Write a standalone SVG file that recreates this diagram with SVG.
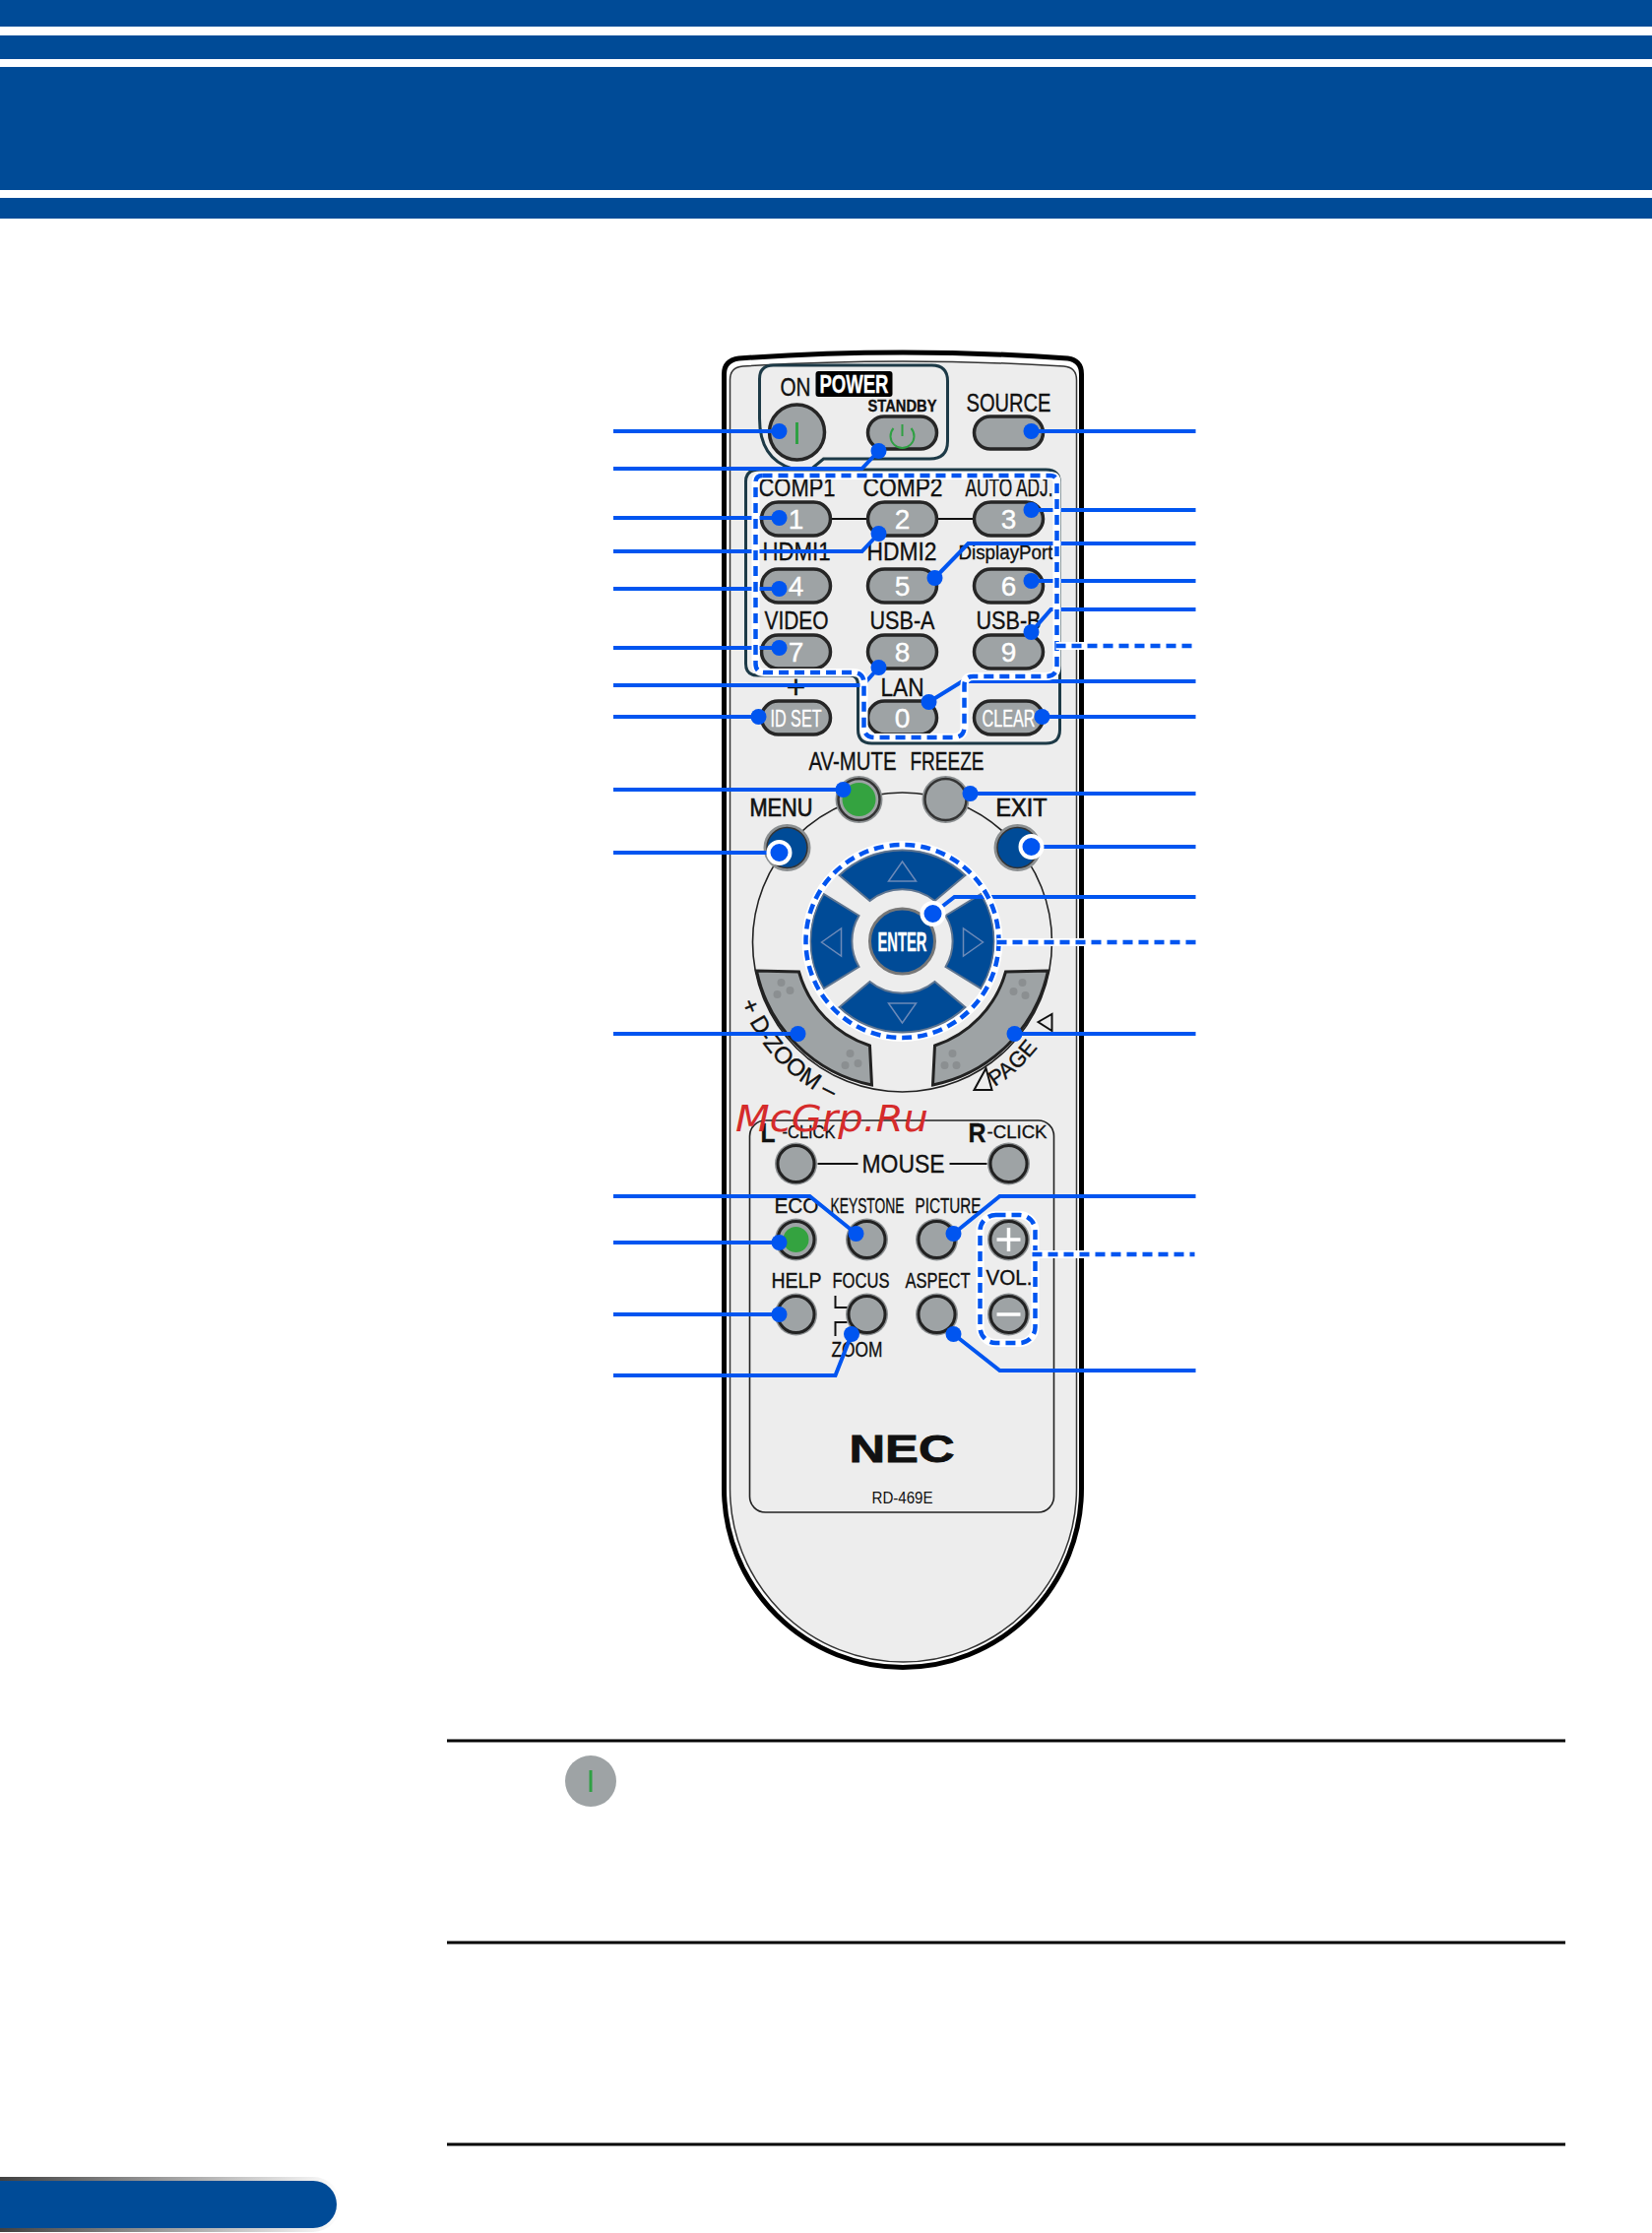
<svg xmlns="http://www.w3.org/2000/svg" xmlns:xlink="http://www.w3.org/1999/xlink" width="1678" height="2268" viewBox="0 0 1678 2268">
<style>
.band{fill:#004b97}
.t{font-family:"Liberation Sans",Arial,sans-serif;font-size:25px;fill:#111;stroke:#111;stroke-width:.35}
.b{font-weight:bold}
.w{fill:#fff;stroke:#fff}
.d{font-size:28px}
.s{font-size:22.5px}
.pill{fill:#9ea3a5;stroke:#262626;stroke-width:3.5}
.box{fill:none;stroke:#1d3a47;stroke-width:3}
.thin{fill:none;stroke:#222;stroke-width:1.6}
.k{fill:none;stroke:#111;stroke-width:2}
.band2{fill:#9ea3a5;stroke:#222;stroke-width:3}
.pad{fill:#004b97;stroke:#5f7590;stroke-width:2}
.tri{fill:none;stroke:#6c8ab8;stroke-width:1.5}
.conn{fill:none;stroke:#0055f0;stroke-width:4}
.halo{fill:none;stroke:#fff;stroke-width:8}
.dash{fill:none;stroke:#0055f0;stroke-width:4.5;stroke-dasharray:10 6}
.grn{fill:none;stroke:#2fa043;stroke-width:3}
.rule{stroke:#000;stroke-width:3}
</style>
<defs>
<linearGradient id="fade" x1="0" x2="1" y1="0" y2="0"><stop offset="0" stop-color="#2a2a2a"/><stop offset="1" stop-color="#ffffff"/></linearGradient>
<marker id="dot" markerUnits="userSpaceOnUse" markerWidth="20" markerHeight="20" refX="10" refY="10" overflow="visible"><circle cx="10" cy="10" r="8" fill="#0055f0"/></marker>
<marker id="ring" markerUnits="userSpaceOnUse" markerWidth="28" markerHeight="28" refX="14" refY="14" overflow="visible"><circle cx="14" cy="14" r="11" fill="#0055f0" stroke="#fff" stroke-width="4"/></marker>
<g id="rb"><circle r="21.5" fill="#8b8f91"/><circle r="18.5" fill="#9ea3a5" stroke="#222" stroke-width="3"/></g>
<g id="big"><circle r="24" fill="#8b8f91"/><circle r="21" fill="#9ea3a5" stroke="#333" stroke-width="2.5"/></g>
<path id="seg-v" class="pad" d="M-64,-67A93,93 0 0 1 64,-67L33,-41A52,52 0 0 0 -33,-41Z"/>
<path id="seg-h" class="pad" d="M-80,-48A93,93 0 0 0 -80,48L-44,26A51,51 0 0 1 -44,-26Z"/>
<polygon id="arw" class="tri" points="0,-82 14,-62 -14,-62"/>
</defs>

<g id="header">
<rect class="band" x="0" y="0" width="1678" height="27"/>
<rect class="band" x="0" y="36" width="1678" height="24"/>
<rect class="band" x="0" y="68" width="1678" height="125"/>
<rect class="band" x="0" y="201" width="1678" height="21"/>
</g>

<g id="remote" transform="translate(-1.5,0)">
<g id="remote-body">
<path d="M737,1512V380Q737,366 752,364Q918,352 1086,364Q1100,366 1100,380V1512A181.5,181.5 0 0 1 737,1512Z" fill="#fff" stroke="#000" stroke-width="5"/>
<path d="M743,1512V386Q743,373 756,372Q918,362 1082,372Q1095,373 1095,386V1512A176,176 0 0 1 743,1512Z" fill="#ededed" stroke="#333" stroke-width="1.5"/>
</g>

<g id="group-frames">
<path class="box" d="M787,371H948Q964,371 964,387V448Q964,466 946,466H838L826,476H806Q773,466 773,425V385Q773,371 787,371Z"/>
<path class="box" d="M773,477H1064Q1078,477 1078,491V741Q1078,755 1064,755H887Q873,755 873,741V696Q873,686 865,686H771Q759,686 759,674V489Q759,477 773,477Z"/>
<rect class="thin" x="763" y="1138" width="309" height="398" rx="16"/>
<circle class="thin" cx="918" cy="957" r="152"/>
<path class="k" d="M846,527H882M954,527H990M832,1182H873M966,1182H1004M850,1316V1328H864M862,1343H850V1357"/>
<rect x="997" y="1234" width="56" height="130" rx="18" fill="none" stroke="#111" stroke-width="2"/>
</g>

<g id="power-on"><circle cx="811" cy="439" r="28" class="pill"/><path class="grn" d="M811,429V451"/><text class="t" x="794" y="402" textLength="31" lengthAdjust="spacingAndGlyphs">ON</text></g>
<g id="power-title"><rect x="830" y="377" width="78" height="26" rx="3" fill="#000"/><text class="t w b" x="834" y="399" textLength="70" lengthAdjust="spacingAndGlyphs">POWER</text></g>
<g id="standby"><rect class="pill" x="883" y="423" width="70" height="33" rx="16.5"/><path class="grn" style="stroke-width:2" d="M918,431V443M909,435A12,12 0 1 0 927,435"/><text class="t b" style="font-size:17px" x="883" y="418" textLength="70" lengthAdjust="spacingAndGlyphs">STANDBY</text></g>
<g id="source"><rect class="pill" x="991" y="423" width="70" height="33" rx="16.5"/><text class="t" x="983" y="418" textLength="86" lengthAdjust="spacingAndGlyphs">SOURCE</text></g>

<g id="key-1"><rect class="pill" x="775" y="510" width="70" height="34" rx="17"/><text class="t w d" x="810" y="537" text-anchor="middle">1</text><text class="t" x="772" y="504" textLength="78" lengthAdjust="spacingAndGlyphs">COMP1</text></g>
<g id="key-2"><rect class="pill" x="883" y="510" width="70" height="34" rx="17"/><text class="t w d" x="918" y="537" text-anchor="middle">2</text><text class="t" x="878" y="504" textLength="81" lengthAdjust="spacingAndGlyphs">COMP2</text></g>
<g id="key-3"><rect class="pill" x="991" y="510" width="70" height="34" rx="17"/><text class="t w d" x="1026" y="537" text-anchor="middle">3</text><text class="t" x="982" y="504" textLength="89" lengthAdjust="spacingAndGlyphs">AUTO ADJ.</text></g>
<g id="key-4"><rect class="pill" x="775" y="578" width="70" height="34" rx="17"/><text class="t w d" x="810" y="605" text-anchor="middle">4</text><text class="t" x="776" y="569" textLength="69" lengthAdjust="spacingAndGlyphs">HDMI1</text></g>
<g id="key-5"><rect class="pill" x="883" y="578" width="70" height="34" rx="17"/><text class="t w d" x="918" y="605" text-anchor="middle">5</text><text class="t" x="882" y="569" textLength="71" lengthAdjust="spacingAndGlyphs">HDMI2</text></g>
<g id="key-6"><rect class="pill" x="991" y="578" width="70" height="34" rx="17"/><text class="t w d" x="1026" y="605" text-anchor="middle">6</text><text class="t" style="font-size:21px" x="975" y="568" textLength="96" lengthAdjust="spacingAndGlyphs">DisplayPort</text></g>
<g id="key-7"><rect class="pill" x="775" y="645" width="70" height="34" rx="17"/><text class="t w d" x="810" y="672" text-anchor="middle">7</text><text class="t" x="778" y="639" textLength="65" lengthAdjust="spacingAndGlyphs">VIDEO</text></g>
<g id="key-8"><rect class="pill" x="883" y="645" width="70" height="34" rx="17"/><text class="t w d" x="918" y="672" text-anchor="middle">8</text><text class="t" x="885" y="639" textLength="66" lengthAdjust="spacingAndGlyphs">USB-A</text></g>
<g id="key-9"><rect class="pill" x="991" y="645" width="70" height="34" rx="17"/><text class="t w d" x="1026" y="672" text-anchor="middle">9</text><text class="t" x="993" y="639" textLength="66" lengthAdjust="spacingAndGlyphs">USB-B</text></g>
<g id="key-0"><rect class="pill" x="883" y="712" width="70" height="34" rx="17"/><text class="t w d" x="918" y="739" text-anchor="middle">0</text><text class="t" x="896" y="707" textLength="44" lengthAdjust="spacingAndGlyphs">LAN</text></g>
<g id="id-set"><rect class="pill" x="775" y="712" width="70" height="34" rx="17"/><text class="t w" style="font-size:23px" x="784" y="738" textLength="52" lengthAdjust="spacingAndGlyphs">ID SET</text><text class="t" style="font-size:34px" x="810" y="709" text-anchor="middle">+</text></g>
<g id="clear"><rect class="pill" x="991" y="712" width="70" height="34" rx="17"/><text class="t w" style="font-size:23px" x="999" y="738" textLength="54" lengthAdjust="spacingAndGlyphs">CLEAR</text></g>

<g id="av-mute"><use xlink:href="#big" href="#big" x="874" y="812"/><circle cx="874" cy="812" r="17" fill="#34a340"/><text class="t" x="823" y="782" textLength="89" lengthAdjust="spacingAndGlyphs">AV-MUTE</text></g>
<g id="freeze"><use xlink:href="#big" href="#big" x="962" y="812"/><text class="t" x="926" y="782" textLength="75" lengthAdjust="spacingAndGlyphs">FREEZE</text></g>
<g id="menu"><circle cx="801" cy="861" r="24" fill="#8b8f91"/><circle cx="801" cy="861" r="20.5" fill="#004b97" stroke="#333" stroke-width="1.5"/><text class="t" style="stroke-width:.7" x="763" y="829" textLength="64" lengthAdjust="spacingAndGlyphs">MENU</text></g>
<g id="exit"><circle cx="1035" cy="861" r="24" fill="#8b8f91"/><circle cx="1035" cy="861" r="20.5" fill="#004b97" stroke="#333" stroke-width="1.5"/><text class="t" style="stroke-width:.7" x="1013" y="829" textLength="52" lengthAdjust="spacingAndGlyphs">EXIT</text></g>

<g id="dpad">
<use xlink:href="#seg-v" href="#seg-v" transform="translate(918,956)"/>
<use xlink:href="#seg-v" href="#seg-v" transform="translate(918,956) scale(1,-1)"/>
<use xlink:href="#seg-h" href="#seg-h" transform="translate(918,956)"/>
<use xlink:href="#seg-h" href="#seg-h" transform="translate(918,956) scale(-1,1)"/>
<use xlink:href="#arw" href="#arw" transform="translate(918,957)"/>
<use xlink:href="#arw" href="#arw" transform="translate(918,957) rotate(90)"/>
<use xlink:href="#arw" href="#arw" transform="translate(918,957) rotate(180)"/>
<use xlink:href="#arw" href="#arw" transform="translate(918,957) rotate(270)"/>
</g>
<g id="enter"><circle cx="918" cy="956" r="33" fill="#004b97" stroke="#777" stroke-width="3"/><text class="t w b" style="font-size:28px" x="893" y="966" textLength="50" lengthAdjust="spacingAndGlyphs">ENTER</text></g>

<g id="d-zoom">
<path class="band2" d="M770,986L813,987A110,110 0 0 0 885,1062L887,1102A150,150 0 0 1 770,986Z"/>
<g fill="#8b8f91"><circle cx="795" cy="998" r="4"/><circle cx="791" cy="1010" r="4"/><circle cx="804" cy="1006" r="4"/><circle cx="865" cy="1070" r="4"/><circle cx="860" cy="1082" r="4"/><circle cx="873" cy="1080" r="4"/></g>
<path id="dz" fill="none" d="M751.6,1011A175,175 0 0 0 864,1123.4"/>
<text class="t" style="font-size:24px"><textPath href="#dz" xlink:href="#dz" startOffset="8">+ D-ZOOM –</textPath></text>
</g>
<g id="page">
<path class="band2" d="M1066,986L1023,987A110,110 0 0 1 951,1062L949,1102A150,150 0 0 0 1066,986Z"/>
<g fill="#8b8f91"><circle cx="1040" cy="998" r="4"/><circle cx="1031" cy="1007" r="4"/><circle cx="1043" cy="1011" r="4"/><circle cx="969" cy="1070" r="4"/><circle cx="961" cy="1082" r="4"/><circle cx="973" cy="1082" r="4"/></g>
<path id="pg" fill="none" d="M1012,1104A172,172 0 0 0 1072,1038"/>
<text class="t" style="font-size:22px"><textPath href="#pg" xlink:href="#pg">PAGE</textPath></text>
<polygon class="k" points="1003,1085 1009,1107 991,1107"/>
<polygon class="k" points="1056,1038 1070,1030 1070,1047"/>
</g>

<g id="mouse-l"><use xlink:href="#rb" href="#rb" x="810" y="1182"/><text class="t b" style="font-size:28px" x="774" y="1160" textLength="15" lengthAdjust="spacingAndGlyphs">L</text><text class="t" style="font-size:19px" x="796" y="1156" textLength="54" lengthAdjust="spacingAndGlyphs">-CLICK</text></g>
<g id="mouse-r"><use xlink:href="#rb" href="#rb" x="1026" y="1182"/><text class="t b" style="font-size:28px" x="985" y="1160" textLength="18" lengthAdjust="spacingAndGlyphs">R</text><text class="t" style="font-size:19px" x="1004" y="1156" textLength="61" lengthAdjust="spacingAndGlyphs">-CLICK</text></g>
<g id="mouse"><text class="t" style="font-size:26px" x="877" y="1191" textLength="84" lengthAdjust="spacingAndGlyphs">MOUSE</text></g>

<g id="eco"><use xlink:href="#rb" href="#rb" x="810" y="1259"/><circle cx="810" cy="1259" r="13" fill="#34a340"/><text class="t s" x="788" y="1232" textLength="45" lengthAdjust="spacingAndGlyphs">ECO</text></g>
<g id="keystone"><use xlink:href="#rb" href="#rb" x="882" y="1259"/><text class="t s" x="845" y="1232" textLength="75" lengthAdjust="spacingAndGlyphs">KEYSTONE</text></g>
<g id="picture"><use xlink:href="#rb" href="#rb" x="953" y="1259"/><text class="t s" x="931" y="1232" textLength="67" lengthAdjust="spacingAndGlyphs">PICTURE</text></g>
<g id="vol-up"><use xlink:href="#rb" href="#rb" x="1026" y="1259"/><path d="M1026,1247V1271M1014,1259H1038" stroke="#fff" stroke-width="3.5"/></g>
<g id="help"><use xlink:href="#rb" href="#rb" x="810" y="1335"/><text class="t s" x="785" y="1308" textLength="51" lengthAdjust="spacingAndGlyphs">HELP</text></g>
<g id="focus"><use xlink:href="#rb" href="#rb" x="882" y="1335"/><text class="t s" x="847" y="1308" textLength="58" lengthAdjust="spacingAndGlyphs">FOCUS</text></g>
<g id="zoom"><text class="t s" x="846" y="1378" textLength="52" lengthAdjust="spacingAndGlyphs">ZOOM</text></g>
<g id="aspect"><use xlink:href="#rb" href="#rb" x="953" y="1335"/><text class="t s" x="921" y="1308" textLength="66" lengthAdjust="spacingAndGlyphs">ASPECT</text></g>
<g id="vol-down"><use xlink:href="#rb" href="#rb" x="1026" y="1335"/><path d="M1014,1335H1038" stroke="#fff" stroke-width="3.5"/><text class="t s" x="1003" y="1305" textLength="47" lengthAdjust="spacingAndGlyphs">VOL.</text></g>

<g id="brand"><text class="t b" style="font-size:38px;stroke-width:.8" x="864" y="1485" textLength="107" lengthAdjust="spacingAndGlyphs">NEC</text><text class="t" style="font-size:16px;stroke-width:0" x="887" y="1527" textLength="62" lengthAdjust="spacingAndGlyphs">RD-469E</text></g>

<g id="connectors">
<path class="conn" marker-end="url(#dot)" d="M624.5,438H793"/>
<path class="conn" marker-end="url(#dot)" d="M624.5,476H877L894,458"/>
<path class="conn" marker-end="url(#dot)" d="M624.5,526H793"/>
<path class="conn" marker-end="url(#dot)" d="M624.5,560H877L894,542"/>
<path class="conn" marker-end="url(#dot)" d="M624.5,598H793"/>
<path class="conn" marker-end="url(#dot)" d="M624.5,658H793"/>
<path class="conn" marker-end="url(#dot)" d="M624.5,696H878L894,678"/>
<path class="conn" marker-end="url(#dot)" d="M624.5,728H772"/>
<path class="conn" marker-end="url(#dot)" d="M1216,438H1049"/>
<path class="conn" marker-end="url(#dot)" d="M1216,518H1049"/>
<path class="conn" marker-end="url(#dot)" d="M1216,552H985L951,587"/>
<path class="conn" marker-end="url(#dot)" d="M1216,590H1049"/>
<path class="conn" marker-end="url(#dot)" d="M1216,619H1069L1049,642"/>
<path class="conn" marker-end="url(#dot)" d="M1216,692H979L945,713"/>
<path class="conn" marker-end="url(#dot)" d="M1216,728H1060"/>
<path class="conn" marker-end="url(#dot)" d="M624.5,802H858"/>
<path class="conn" marker-end="url(#ring)" d="M624.5,866H793"/>
<path class="conn" marker-end="url(#dot)" d="M624.5,1050H812"/>
<path class="conn" marker-end="url(#dot)" d="M1216,806H987"/>
<path class="conn" marker-end="url(#ring)" d="M1216,860H1049"/>
<path class="conn" marker-end="url(#ring)" d="M1216,911H971L949,928"/>
<path class="conn" marker-end="url(#dot)" d="M1216,1050H1032"/>
<path class="conn" marker-end="url(#dot)" d="M624.5,1215H824L871,1253"/>
<path class="conn" marker-end="url(#dot)" d="M624.5,1262H793"/>
<path class="conn" marker-end="url(#dot)" d="M624.5,1335H793"/>
<path class="conn" marker-end="url(#dot)" d="M624.5,1397H850L866.5,1355"/>
<path class="conn" marker-end="url(#dot)" d="M1216,1215H1017L970,1253"/>
<path class="conn" marker-end="url(#dot)" d="M1216,1392H1017L970,1355"/>
<g id="dashed-groups">
<path class="halo" d="M776,483H1068Q1075,483 1075,490V676Q1075,687 1064,687H990Q981,687 981,696V738Q981,749 970,749H890Q879,749 879,738V694Q879,683 868,683H778Q769,683 769,674V490Q769,483 776,483Z"/>
<path class="dash" d="M776,483H1068Q1075,483 1075,490V676Q1075,687 1064,687H990Q981,687 981,696V738Q981,749 970,749H890Q879,749 879,738V694Q879,683 868,683H778Q769,683 769,674V490Q769,483 776,483Z"/>
<path class="halo" d="M1074,656H1216"/><path class="dash" d="M1074,656H1216"/>
<circle class="halo" cx="918" cy="956" r="98"/><circle class="dash" cx="918" cy="956" r="98"/>
<path class="halo" d="M1014,957H1216"/><path class="dash" d="M1014,957H1216"/>
<rect class="halo" x="997" y="1234" width="56" height="130" rx="16"/><rect class="dash" x="997" y="1234" width="56" height="130" rx="16"/>
<path class="halo" d="M1050,1274H1215"/><path class="dash" d="M1050,1274H1215"/>
</g>
</g>
</g>

<g id="watermark"><text x="747" y="1149" font-family="'DejaVu Sans',sans-serif" font-style="italic" font-size="37" fill="#d52b2b" textLength="196" lengthAdjust="spacingAndGlyphs">McGrp.Ru</text></g>

<g id="notes">
<line class="rule" x1="454" x2="1590" y1="1768" y2="1768"/>
<line class="rule" x1="454" x2="1590" y1="1973" y2="1973"/>
<line class="rule" x1="454" x2="1590" y1="2178" y2="2178"/>
<circle cx="600" cy="1809" r="26" fill="#9ea3a5"/>
<path class="grn" d="M600,1798V1820"/>
</g>

<g id="page-tab">
<rect x="-40" y="2211" width="386" height="56" rx="28" fill="url(#fade)"/>
<rect class="band" x="-40" y="2215" width="382" height="48" rx="24"/>
</g>
</svg>
